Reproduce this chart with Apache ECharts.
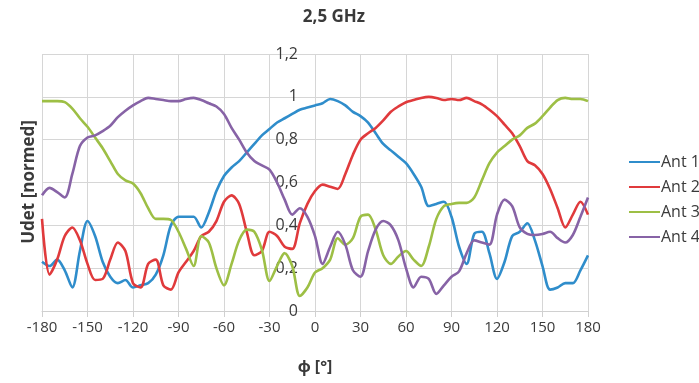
<!DOCTYPE html>
<html lang="de">
<head>
    <meta http-equiv="Content-Type" content="text/html; charset=UTF-8">
    <title>2,5 GHz</title>
    <script type="text/javascript" src="https://cdn.jsdelivr.net/npm/echarts@6/dist/echarts.min.js"></script>
</head>
<body style="margin:0; width:699px; height:383px; background:#fff">
<div id="main" style="width:699px; height:383px"></div>
<script type="text/javascript">
    // Winkel in Grad, Schrittweite 5°
    var angles = [];
    for (var a = -180; a <= 180; a += 5) angles.push(a);

    var ant1 = [0.23, 0.21, 0.24, 0.19, 0.11, 0.28, 0.42, 0.35, 0.23, 0.16, 0.13, 0.145, 0.11, 0.12, 0.13, 0.17,
        0.26, 0.40, 0.44, 0.44, 0.44, 0.39, 0.46, 0.56, 0.63, 0.67, 0.70, 0.74, 0.78, 0.82, 0.85, 0.88, 0.90, 0.92,
        0.94, 0.95, 0.96, 0.97, 0.99, 0.98, 0.96, 0.93, 0.91, 0.88, 0.83, 0.78, 0.75, 0.72, 0.69, 0.64, 0.58, 0.49,
        0.50, 0.51, 0.44, 0.30, 0.22, 0.36, 0.37, 0.27, 0.15, 0.23, 0.35, 0.37, 0.41, 0.33, 0.21, 0.10, 0.11, 0.13,
        0.13, 0.19, 0.26];
    var ant2 = [0.43, 0.17, 0.24, 0.35, 0.39, 0.33, 0.22, 0.145, 0.15, 0.24, 0.32, 0.28, 0.13, 0.11, 0.22, 0.24,
        0.12, 0.10, 0.18, 0.23, 0.28, 0.35, 0.37, 0.42, 0.51, 0.54, 0.50, 0.37, 0.26, 0.28, 0.37, 0.35, 0.30, 0.29,
        0.41, 0.50, 0.56, 0.59, 0.58, 0.57, 0.64, 0.73, 0.80, 0.83, 0.855, 0.89, 0.93, 0.955, 0.975, 0.985, 0.995,
        1.0, 0.995, 0.985, 0.99, 0.985, 0.995, 0.98, 0.965, 0.94, 0.91, 0.87, 0.83, 0.77, 0.70, 0.68, 0.64, 0.57,
        0.48, 0.39, 0.45, 0.51, 0.45];
    var ant3 = [0.98, 0.98, 0.98, 0.975, 0.945, 0.90, 0.86, 0.81, 0.76, 0.70, 0.64, 0.61, 0.595, 0.55, 0.48, 0.43,
        0.43, 0.425, 0.37, 0.29, 0.21, 0.35, 0.32, 0.20, 0.12, 0.22, 0.33, 0.38, 0.37, 0.285, 0.14, 0.21, 0.27, 0.21,
        0.07, 0.11, 0.18, 0.20, 0.24, 0.34, 0.31, 0.34, 0.44, 0.45, 0.38, 0.26, 0.22, 0.255, 0.28, 0.24, 0.21, 0.30,
        0.43, 0.49, 0.50, 0.505, 0.505, 0.53, 0.61, 0.69, 0.74, 0.77, 0.80, 0.82, 0.855, 0.875, 0.91, 0.95, 0.985,
        0.995, 0.99, 0.99, 0.98];
    var ant4 = [0.54, 0.575, 0.555, 0.53, 0.64, 0.77, 0.81, 0.82, 0.84, 0.865, 0.905, 0.935, 0.96, 0.98, 0.995, 0.99,
        0.985, 0.98, 0.98, 0.99, 0.995, 0.985, 0.97, 0.955, 0.92, 0.855, 0.80, 0.74, 0.70, 0.68, 0.66, 0.60, 0.52,
        0.45, 0.48, 0.44, 0.35, 0.22, 0.30, 0.37, 0.31, 0.19, 0.16, 0.28, 0.38, 0.42, 0.40, 0.33, 0.20, 0.11, 0.16,
        0.15, 0.08, 0.12, 0.16, 0.185, 0.27, 0.33, 0.32, 0.31, 0.45, 0.52, 0.49, 0.39, 0.36, 0.355, 0.36, 0.37, 0.34,
        0.32, 0.355, 0.44, 0.53];

    var names = ['Ant 1', 'Ant 2', 'Ant 3', 'Ant 4'];
    var colors = ['#2f8dcb', '#e03a3c', '#9dbf45', '#8763a6'];

    function pairs(vals) {
        return angles.map(function (x, i) { return [x, vals[i]]; });
    }

    var myChart = echarts.init(document.getElementById('main'));
    var font = '"Open Sans", "Noto Sans", sans-serif';

    myChart.setOption({
        animation: false,
        color: colors,
        textStyle: { fontFamily: font },
        title: {
            text: '2,5 GHz',
            left: 329,
            top: 4,
            textAlign: 'center',
            textStyle: { fontSize: 17, fontWeight: 'bold', color: '#3a3a3a', fontFamily: font }
        },
        graphic: [{
            type: 'text',
            x: 29,
            y: 182,
            rotation: Math.PI / 2,
            style: {
                text: 'Udet [normed]',
                font: 'bold 17px ' + font,
                fill: '#3a3a3a',
                align: 'center',
                verticalAlign: 'middle'
            }
        }],
        legend: {
            orient: 'vertical',
            left: 624,
            top: 149,
            itemGap: 9,
            icon: 'rect',
            itemWidth: 31,
            itemHeight: 2,
            textStyle: { fontSize: 16, color: '#3a3a3a', padding: [0, 0, 0, -4] },
            data: names
        },
        grid: { left: 42, right: 111, top: 54, bottom: 72 },
        xAxis: {
            type: 'value',
            min: -180,
            max: 180,
            interval: 30,
            name: 'ϕ [°]',
            nameLocation: 'middle',
            nameGap: 48,
            nameTextStyle: { fontSize: 16, fontWeight: 'bold', color: '#3a3a3a' },
            axisLine: { onZero: false, lineStyle: { color: '#d0d0d0' } },
            axisTick: { show: true, length: 6, lineStyle: { color: '#d0d0d0' } },
            axisLabel: { fontSize: 15, color: '#3a3a3a', margin: 9 },
            splitLine: { lineStyle: { color: '#d6d6d6' } }
        },
        yAxis: {
            type: 'value',
            min: 0,
            max: 1.2,
            interval: 0.2,
            // Beschriftung sitzt bei phi = 0 (Mitte des Diagramms)
            offset: -273,
            axisLine: { show: false, onZero: false },
            axisTick: { show: false },
            axisLabel: {
                fontSize: 16,
                color: '#3a3a3a',
                margin: 17,
                formatter: function (v) { return String(Math.round(v * 10) / 10).replace('.', ','); }
            },
            splitLine: { lineStyle: { color: '#d6d6d6' } }
        },
        series: names.map(function (n, i) {
            return {
                name: n,
                type: 'line',
                showSymbol: false,
                smooth: 0.3,
                lineStyle: { width: 2.6 },
                data: pairs([ant1, ant2, ant3, ant4][i])
            };
        })
    });
</script>
</body>
</html>
